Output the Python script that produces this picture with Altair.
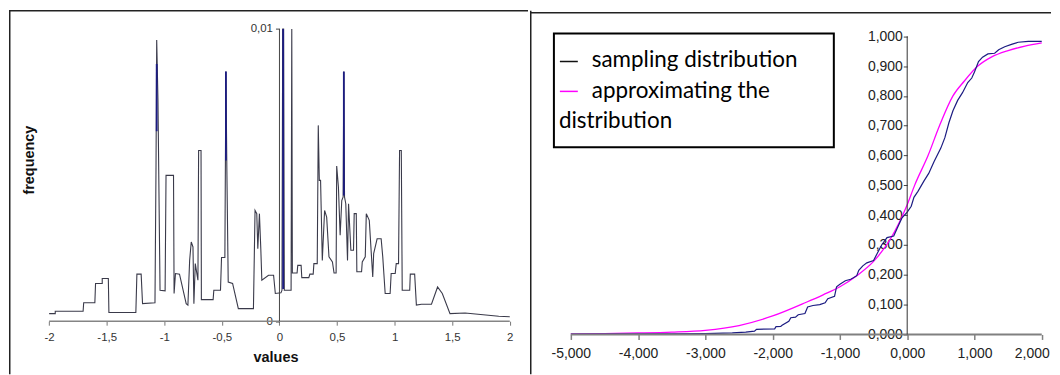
import altair as alt
import pandas as pd

# ---------------- left panel: frequency curve ----------------
freq_x = [-2.000, -1.947, -1.947, -1.705, -1.700, -1.603, -1.597, -1.539, -1.539, -1.486,
          -1.481, -1.247, -1.238, -1.201, -1.189, -1.081, -1.072, -1.066, -1.055, -1.037,
          -0.993, -0.985, -0.920, -0.915, -0.903, -0.868, -0.810, -0.795, -0.780, -0.766,
          -0.751, -0.743, -0.731, -0.708, -0.702, -0.681, -0.678, -0.576, -0.570, -0.512,
          -0.503, -0.474, -0.465, -0.457, -0.445, -0.407, -0.357, -0.226, -0.212, -0.197,
          -0.188, -0.174, -0.162, -0.153, -0.095, -0.051, -0.036, 0.013, 0.022, 0.028,
          0.036, 0.042, 0.101, 0.107, 0.112, 0.153, 0.159, 0.188, 0.194, 0.255,
          0.264, 0.293, 0.299, 0.328, 0.337, 0.346, 0.357, 0.372, 0.392, 0.410,
          0.430, 0.460, 0.474, 0.492, 0.497, 0.512, 0.527, 0.541, 0.553, 0.559,
          0.565, 0.576, 0.591, 0.600, 0.620, 0.643, 0.649, 0.667, 0.672, 0.713,
          0.719, 0.745, 0.754, 0.780, 0.810, 0.818, 0.848, 0.883, 0.897, 0.918,
          0.961, 0.970, 1.005, 1.014, 1.034, 1.043, 1.058, 1.066, 1.131, 1.136,
          1.174, 1.189, 1.233, 1.320, 1.373, 1.414, 1.481, 1.612, 1.904, 2.000]
freq_y = [0.00026, 0.00026, 0.00034, 0.00034, 0.00063, 0.00063, 0.00129, 0.00129, 0.00146, 0.00146,
          0.00030, 0.00030, 0.00161, 0.00161, 0.00060, 0.00063, 0.00527, 0.00962, 0.00755, 0.00106,
          0.00104, 0.00499, 0.00499, 0.00095, 0.00163, 0.00161, 0.00060, 0.00055, 0.00208, 0.00271,
          0.00254, 0.00060, 0.00197, 0.00140, 0.00584, 0.00584, 0.00074, 0.00074, 0.00106, 0.00106,
          0.00218, 0.00218, 0.00854, 0.00527, 0.00134, 0.00129, 0.00043, 0.00043, 0.00379, 0.00368,
          0.00248, 0.00368, 0.00248, 0.00140, 0.00157, 0.00157, 0.00095, 0.00097, 0.00106, 0.01000,
          0.01000, 0.00106, 0.00106, 0.01000, 0.00165, 0.00165, 0.00191, 0.00191, 0.00149, 0.00149,
          0.00161, 0.00161, 0.00197, 0.00197, 0.00670, 0.00482, 0.00482, 0.00208, 0.00379, 0.00356,
          0.00220, 0.00203, 0.00165, 0.00165, 0.00531, 0.00459, 0.00294, 0.00413, 0.00425, 0.00854,
          0.00425, 0.00402, 0.00208, 0.00402, 0.00243, 0.00243, 0.00368, 0.00368, 0.00169, 0.00169,
          0.00203, 0.00220, 0.00368, 0.00345, 0.00151, 0.00231, 0.00282, 0.00282, 0.00220, 0.00095,
          0.00095, 0.00163, 0.00163, 0.00197, 0.00197, 0.00584, 0.00584, 0.00106, 0.00106, 0.00161,
          0.00161, 0.00055, 0.00058, 0.00058, 0.00117, 0.00095, 0.00026, 0.00028, 0.00017, 0.00015]
spike_x = [-1.066, -0.465, 0.032, 0.559]
spike_lo = [0.0065, 0.0055, 0.0011, 0.0043]
spike_hi = [0.0088, 0.00854, 0.0100, 0.00854]
left_xticks = [-2, -1.5, -1, -0.5, 0, 0.5, 1, 1.5, 2]
left_yticks = [0, 0.01]
left_xtitle = "values"
left_ytitle = "frequency"

# ---------------- right panel: cumulative distributions ----------------
samp_x = [-5.0, -3.5, -3.0, -2.6, -2.4, -2.27, -2.24, -1.97, -1.95, -1.88, -1.86, -1.76, -1.73,
          -1.66, -1.62, -1.52, -1.48, -1.4, -1.3, -1.22, -1.18, -1.08, -1.05, -1.0, -0.92, -0.84,
          -0.8, -0.75, -0.72, -0.66, -0.6, -0.5, -0.45, -0.38, -0.3, -0.2, -0.15, -0.08, 0.0,
          0.06, 0.1, 0.16, 0.25, 0.32, 0.4, 0.5, 0.56, 0.62, 0.68, 0.75, 0.82, 0.9, 0.96, 1.0,
          1.06, 1.12, 1.2, 1.3, 1.36, 1.45, 1.55, 1.65, 1.8, 2.0]
samp_y = [0.001, 0.002, 0.003, 0.005, 0.008, 0.011, 0.017, 0.019, 0.026, 0.027, 0.031, 0.044, 0.056,
          0.058, 0.066, 0.070, 0.092, 0.097, 0.100, 0.106, 0.120, 0.128, 0.160, 0.168, 0.180, 0.185,
          0.190, 0.197, 0.215, 0.230, 0.240, 0.248, 0.270, 0.300, 0.325, 0.330, 0.355, 0.390, 0.410,
          0.430, 0.460, 0.480, 0.515, 0.540, 0.580, 0.625, 0.660, 0.710, 0.750, 0.785, 0.810, 0.845,
          0.860, 0.880, 0.915, 0.930, 0.941, 0.943, 0.955, 0.965, 0.973, 0.980, 0.983, 0.983]
appr_x = [-5.0, -4.5, -4.0, -3.5, -3.0, -2.5, -2.0, -1.5, -1.25, -1.0, -0.75, -0.5, -0.25, 0.0,
          0.11, 0.31, 0.48, 0.68, 0.85, 1.05, 1.25, 1.5, 1.75, 2.0]
appr_y = [0.002, 0.003, 0.005, 0.008, 0.014, 0.030, 0.062, 0.108, 0.133, 0.160, 0.197, 0.245,
          0.320, 0.435, 0.500, 0.600, 0.700, 0.800, 0.850, 0.900, 0.930, 0.952, 0.967, 0.978]
right_xticks = [-5, -4, -3, -2, -1, 0, 1, 2]
right_yticks = [0.0, 0.1, 0.2, 0.3, 0.4, 0.5, 0.6, 0.7, 0.8, 0.9, 1.0]
legend_labels = ["sampling distribution", "approximating the", "distribution"]

# ---------------- styling / layout ----------------
LW, LH = 521, 367
RW, RH = 523, 367
FONT = "Liberation Sans"
LEG_FONT = "Lato"
NAVY = "#1c1c82"
MAGENTA = "#ff00ff"


def one(text=""):
    return pd.DataFrame({"t": [text]})


# ----- left panel -----
xs_l = alt.Scale(domain=[-2.3486, 2.1583], nice=False, zero=False)
ys_l = alt.Scale(domain=[-0.0018166, 0.010692], nice=False, zero=False)
ax_lx = alt.Axis(
    values=left_xticks, labelExpr="replace(toString(datum.value), '.', ',')",
    domain=False, grid=False, tickSize=4, tickColor="#777", labelFont=FONT,
    labelFontSize=11.5, labelColor="#333", labelPadding=6, labelFlush=False,
    labelOverlap=False, offset=-53.3, title=None)
ax_ly = alt.Axis(
    values=left_yticks, labelExpr="replace(toString(datum.value), '.', ',')",
    domain=False, grid=False, tickSize=4, tickColor="#444", labelFont=FONT,
    labelFontSize=11.5, labelColor="#333", labelPadding=3, labelFlush=False,
    labelOverlap=False, offset=-271.5, title=None)

df_f = pd.DataFrame({"x": freq_x, "y": freq_y, "i": list(range(len(freq_x)))})
left_line = alt.Chart(df_f).mark_line(color="#3a3a4a", strokeWidth=1.1).encode(
    x=alt.X("x:Q", scale=xs_l, axis=ax_lx),
    y=alt.Y("y:Q", scale=ys_l, axis=ax_ly),
    order="i:Q",
)

df_sp = pd.DataFrame({"x": spike_x, "y": spike_lo, "y2": spike_hi})
left_spikes = alt.Chart(df_sp).mark_rule(color=NAVY, strokeWidth=1.8).encode(
    x=alt.X("x:Q", scale=xs_l, axis=ax_lx),
    y=alt.Y("y:Q", scale=ys_l, axis=ax_ly),
    y2="y2:Q",
)

df_lax = pd.DataFrame({"x": [left_xticks[0]], "x2": [left_xticks[-1]], "y": [0.0]})
left_xaxis = alt.Chart(df_lax).mark_rule(color="#858585", strokeWidth=1.6).encode(
    x=alt.X("x:Q", scale=xs_l, axis=ax_lx), x2="x2:Q",
    y=alt.Y("y:Q", scale=ys_l, axis=ax_ly),
)
df_lay = pd.DataFrame({"x": [0.0], "y": [left_yticks[0]], "y2": [left_yticks[-1]]})
left_yaxis = alt.Chart(df_lay).mark_rule(color="#444", strokeWidth=1).encode(
    x=alt.X("x:Q", scale=xs_l, axis=ax_lx),
    y=alt.Y("y:Q", scale=ys_l, axis=ax_ly), y2="y2:Q",
)

left_xt = alt.Chart(one(left_xtitle)).mark_text(
    font=FONT, fontSize=14.5, fontWeight="bold", color="#111").encode(
    text="t:N", x=alt.value(268), y=alt.value(351))
left_yt = alt.Chart(one(left_ytitle)).mark_text(
    font=FONT, fontSize=14.5, fontWeight="bold", color="#111", angle=270).encode(
    text="t:N", x=alt.value(21), y=alt.value(152))

left_top = alt.Chart(one()).mark_rule(color="#222", strokeWidth=1.5).encode(
    x=alt.value(0), x2=alt.value(LW), y=alt.value(2))
left_side = alt.Chart(one()).mark_rule(color="#222", strokeWidth=1.5).encode(
    x=alt.value(0.75), y=alt.value(2), y2=alt.value(LH))

left = alt.layer(left_line, left_spikes, left_xaxis, left_yaxis, left_xt, left_yt,
                 left_top, left_side).properties(width=LW, height=LH)

# ----- right panel -----
xs_r = alt.Scale(domain=[-5.6071, 2.1377], nice=False, zero=False)
ys_r = alt.Scale(domain=[-0.13364, 1.0925], nice=False, zero=False)
ax_rx = alt.Axis(
    values=right_xticks,
    labelExpr="(datum.value < 0 ? '-' : '') + abs(datum.value) + ',000'",
    domain=False, grid=False, tickSize=5, tickColor="#808080", tickWidth=1.5,
    labelFont=FONT, labelFontSize=14, labelColor="#222", labelPadding=7,
    labelOffset={"condition": {"test": "datum.value == 2", "value": -10}, "value": 0},
    labelFlush=False, labelOverlap=False, offset=-40, title=None)
ax_ry = alt.Axis(
    values=right_yticks,
    labelExpr="replace(format(datum.value, '.3f'), '.', ',')",
    domain=False, grid=False, tickSize=4, tickColor="#444", labelFont=FONT,
    labelFontSize=14, labelColor="#222", labelPadding=1, labelFlush=False,
    labelOverlap=False, offset=-378.7, title=None)

df_a = pd.DataFrame({"x": appr_x, "y": appr_y, "i": list(range(len(appr_x)))})
df_s = pd.DataFrame({"x": samp_x, "y": samp_y, "i": list(range(len(samp_x)))})

right_appr = alt.Chart(df_a).mark_line(color=MAGENTA, strokeWidth=1.3, interpolate="monotone").encode(
    x=alt.X("x:Q", scale=xs_r, axis=ax_rx),
    y=alt.Y("y:Q", scale=ys_r, axis=ax_ry),
    order="i:Q",
)
right_samp = alt.Chart(df_s).mark_line(color=NAVY, strokeWidth=1.2).encode(
    x=alt.X("x:Q", scale=xs_r, axis=ax_rx),
    y=alt.Y("y:Q", scale=ys_r, axis=ax_ry),
    order="i:Q",
)

df_rax = pd.DataFrame({"x": [right_xticks[0]], "x2": [right_xticks[-1]], "y": [0.0]})
right_xaxis = alt.Chart(df_rax).mark_rule(color="#808080", strokeWidth=2).encode(
    x=alt.X("x:Q", scale=xs_r, axis=ax_rx), x2="x2:Q",
    y=alt.Y("y:Q", scale=ys_r, axis=ax_ry),
)
df_ray = pd.DataFrame({"x": [0.0], "y": [right_yticks[0]], "y2": [right_yticks[-1]]})
right_yaxis = alt.Chart(df_ray).mark_rule(color="#333", strokeWidth=1).encode(
    x=alt.X("x:Q", scale=xs_r, axis=ax_rx),
    y=alt.Y("y:Q", scale=ys_r, axis=ax_ry), y2="y2:Q",
)

leg_box = alt.Chart(one()).mark_rect(fill="white", stroke="black", strokeWidth=2).encode(
    x=alt.value(24), x2=alt.value(305), y=alt.value(25), y2=alt.value(139))
leg_s1 = alt.Chart(one()).mark_rule(color="#111", strokeWidth=1.5).encode(
    x=alt.value(30), x2=alt.value(48), y=alt.value(53))
leg_s2 = alt.Chart(one()).mark_rule(color=MAGENTA, strokeWidth=1.5).encode(
    x=alt.value(30), x2=alt.value(48), y=alt.value(83))
leg_t1 = alt.Chart(one(legend_labels[0])).mark_text(
    font=LEG_FONT, fontSize=22.5, align="left", color="#000").encode(
    text="t:N", x=alt.value(62), y=alt.value(52))
leg_t2 = alt.Chart(one(legend_labels[1])).mark_text(
    font=LEG_FONT, fontSize=22.5, align="left", color="#000").encode(
    text="t:N", x=alt.value(62), y=alt.value(83))
leg_t3 = alt.Chart(one(legend_labels[2])).mark_text(
    font=LEG_FONT, fontSize=22.5, align="left", color="#000").encode(
    text="t:N", x=alt.value(29), y=alt.value(113))

right_top = alt.Chart(one()).mark_rule(color="#222", strokeWidth=1.5).encode(
    x=alt.value(0), x2=alt.value(RW), y=alt.value(4))
right_side = alt.Chart(one()).mark_rule(color="#222", strokeWidth=1.5).encode(
    x=alt.value(0.75), y=alt.value(2), y2=alt.value(RH))

right = alt.layer(right_appr, right_samp, right_xaxis, right_yaxis, leg_box, leg_s1, leg_s2,
                  leg_t1, leg_t2, leg_t3, right_top, right_side).properties(width=RW, height=RH)

chart = alt.hconcat(left, right, spacing=0).properties(
    padding={"left": 0, "right": 0, "top": 0, "bottom": 0}
).configure_view(stroke=None).configure_concat(spacing=0)

chart.save("out.html", embed_options={"renderer": "svg", "actions": False})
